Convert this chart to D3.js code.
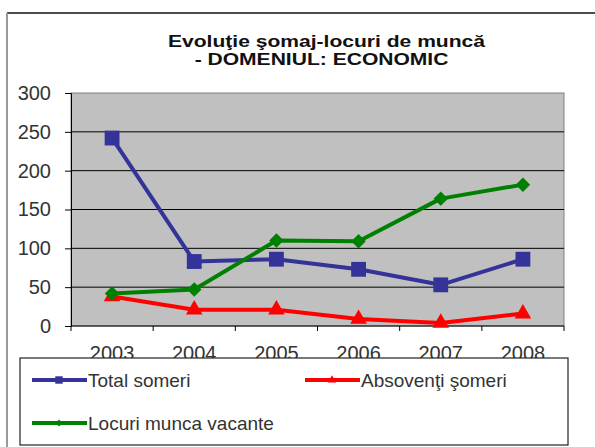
<!DOCTYPE html>
<html>
<head>
<meta charset="utf-8">
<script src="https://cdn.jsdelivr.net/npm/d3@7"></script>
<style>
  body { margin: 0; background: white; }
  text { font-family: "Liberation Sans", Arial, sans-serif; }
</style>
</head>
<body>
<div id="chart"></div>
<script>
// data
let years = ['2003', '2004', '2005', '2006', '2007', '2008'];
let totalSomeri = [242, 83, 86, 73, 53, 86];
let absolventiSomeri = [38, 21, 21, 9, 4, 16];
let locuriVacante = [42, 47, 110, 109, 164, 182];
let yTicks = [0, 50, 100, 150, 200, 250, 300];
let seriesNames = ['Total someri', 'Absovenţi şomeri', 'Locuri munca vacante'];

let width = 595,
    height = 447,
    plot = { left: 71, right: 564, top: 93, bottom: 326 };

let series = [
  { name: seriesNames[0], values: totalSomeri, color: '#333399', marker: d3.symbolSquare, size: 220, rot: 0 },
  { name: seriesNames[1], values: absolventiSomeri, color: '#ff0000', marker: d3.symbolTriangle, size: 120, rot: 0 },
  { name: seriesNames[2], values: locuriVacante, color: '#008000', marker: d3.symbolSquare, size: 105, rot: 45 }
];

let svg = d3.select('#chart')
  .append('svg')
    .attr('width', width)
    .attr('height', height)
    .style('background', 'white');

// outer chart frame (only top and left visible)
svg.append('line').attr('x1', 7).attr('x2', width).attr('y1', 13).attr('y2', 13)
  .attr('stroke', '#111').attr('stroke-width', 1.5);
svg.append('line').attr('x1', 7).attr('x2', 7).attr('y1', 13).attr('y2', height)
  .attr('stroke', '#999').attr('stroke-width', 2);

// title
let title = svg.append('g').attr('transform', 'translate(324,0) scale(1.24,1)');
title.append('text').attr('x', 2).attr('y', 47).attr('text-anchor', 'middle')
  .style('font-size', '17px').style('font-weight', 'bold').attr('fill', '#111')
  .text('Evoluţie şomaj-locuri de muncă');
title.append('text').attr('x', -2).attr('y', 65).attr('text-anchor', 'middle')
  .style('font-size', '17px').style('font-weight', 'bold').attr('fill', '#111')
  .text('- DOMENIUL: ECONOMIC');

let x = d3.scaleBand()
  .domain(years)
  .range([plot.left, plot.right]);

let y = d3.scaleLinear()
  .domain([0, 300])
  .range([plot.bottom, plot.top]);

// plot area
svg.append('rect')
  .attr('x', plot.left).attr('y', plot.top)
  .attr('width', plot.right - plot.left).attr('height', plot.bottom - plot.top)
  .attr('fill', '#c0c0c0').attr('stroke', '#808080');

// gridlines
svg.append('g').selectAll('line')
  .data(yTicks.filter(d => d > 0 && d < 300))
  .enter().append('line')
    .attr('x1', plot.left).attr('x2', plot.right)
    .attr('y1', d => y(d)).attr('y2', d => y(d))
    .attr('stroke', '#000').attr('stroke-width', 1);

// y axis
let yAxis = svg.append('g')
  .attr('transform', 'translate(' + plot.left + ',0)')
  .call(d3.axisLeft(y).tickValues(yTicks).tickSize(6).tickPadding(14));
yAxis.select('.domain').attr('stroke', '#000');
yAxis.selectAll('.tick line').attr('stroke', '#000');
yAxis.selectAll('text').style('font-size', '20px').attr('fill', '#333');

// x axis, ticks on band boundaries
let xAxis = svg.append('g')
  .attr('transform', 'translate(0,' + plot.bottom + ')');
xAxis.append('line').attr('x1', plot.left).attr('x2', plot.right)
  .attr('stroke', '#000');
xAxis.selectAll('.bt')
  .data(years.concat(['end']))
  .enter().append('line')
    .attr('x1', (d, i) => i < years.length ? x(d) : plot.right)
    .attr('x2', (d, i) => i < years.length ? x(d) : plot.right)
    .attr('y1', 0).attr('y2', 5)
    .attr('stroke', '#000');
xAxis.selectAll('.lab')
  .data(years)
  .enter().append('text')
    .attr('x', d => x(d) + x.bandwidth() / 2)
    .attr('y', 34)
    .attr('text-anchor', 'middle')
    .style('font-size', '20px')
    .attr('fill', '#333')
    .text(d => d);

// lines and markers
let line = d3.line()
  .x((d, i) => x(years[i]) + x.bandwidth() / 2)
  .y(d => y(d));

series.forEach(s => {
  svg.append('path')
    .datum(s.values)
    .attr('d', line)
    .attr('fill', 'none')
    .attr('stroke', s.color)
    .attr('stroke-width', 4)
    .attr('stroke-linejoin', 'round');
  svg.append('g').selectAll('path')
    .data(s.values)
    .enter().append('path')
      .attr('d', d3.symbol().type(s.marker).size(s.size))
      .attr('transform', (d, i) => 'translate(' + (x(years[i]) + x.bandwidth() / 2) + ',' + y(d) + ') rotate(' + s.rot + ')')
      .attr('fill', s.color);
});

// legend (drawn over the bottom of the year labels, as in the original)
let legend = svg.append('g');
legend.append('rect')
  .attr('x', 20).attr('y', 358).attr('width', 548).attr('height', 87)
  .attr('fill', 'white').attr('stroke', '#222').attr('stroke-width', 1.2);

let legendPos = [[32, 380], [305, 380], [32, 423]];
series.forEach((s, i) => {
  let g = legend.append('g').attr('transform', 'translate(' + legendPos[i][0] + ',' + legendPos[i][1] + ')');
  g.append('line').attr('x1', 0).attr('x2', 55).attr('y1', 0).attr('y2', 0)
    .attr('stroke', s.color).attr('stroke-width', 4);
  g.append('path').attr('d', d3.symbol().type(s.marker).size(s.size / 4))
    .attr('transform', 'translate(27,0) rotate(' + s.rot + ')').attr('fill', s.color);
  g.append('text').attr('x', 56).attr('y', 0).attr('dy', '0.35em')
    .style('font-size', '19px').attr('fill', '#333')
    .text(s.name);
});
</script>
</body>
</html>
